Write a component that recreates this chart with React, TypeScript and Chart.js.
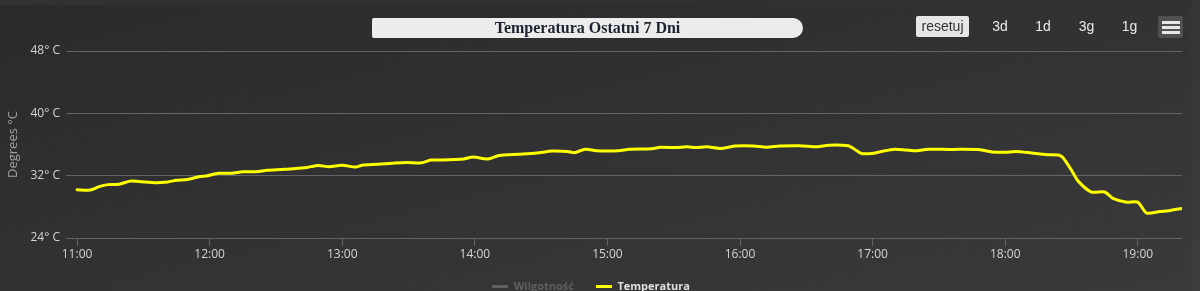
import React, { useEffect, useRef } from "react";
import { Chart, registerables } from "chart.js";

Chart.register(...registerables);

// Minutes after 11:00
const minutes: number[] = [
  0, 6, 10, 14, 19, 24, 28, 36, 41, 45, 50, 55, 59, 64, 70, 75, 81, 86, 92, 98,
  104, 109, 114, 120, 126, 129, 136, 143, 149, 156, 160, 164, 175, 179, 186, 191,
  200, 208, 215, 222, 225, 230, 235, 245, 250, 260, 264, 271, 276, 280, 285, 291,
  298, 306, 312, 318, 327, 335, 340, 349, 351, 355, 361, 364, 370, 375, 380, 385,
  396, 401, 408, 414, 420, 425, 432, 439, 444, 446, 450, 453, 459, 465, 469, 475,
  480, 484, 490, 494, 500,
];

const temperatures: number[] = [
  30.2, 30.15, 30.6, 30.85, 30.9, 31.3, 31.25, 31.1, 31.2, 31.4, 31.5, 31.85, 32.0,
  32.3, 32.3, 32.5, 32.5, 32.7, 32.8, 32.9, 33.05, 33.3, 33.15, 33.35, 33.1, 33.35,
  33.45, 33.6, 33.7, 33.65, 34.0, 34.0, 34.15, 34.4, 34.15, 34.6, 34.75, 34.9,
  35.15, 35.1, 34.95, 35.4, 35.2, 35.2, 35.4, 35.45, 35.65, 35.6, 35.7, 35.6, 35.7,
  35.5, 35.8, 35.8, 35.65, 35.8, 35.85, 35.7, 35.9, 35.85, 35.55, 34.85, 34.9, 35.1,
  35.4, 35.3, 35.2, 35.4, 35.35, 35.4, 35.35, 35.05, 35.0, 35.1, 34.9, 34.7, 34.65,
  34.35, 32.7, 31.3, 29.9, 29.9, 29.05, 28.6, 28.6, 27.2, 27.4, 27.5, 27.8,
];

const humidityValues: number[] = [];

const xTickMinutes: number[] = [0, 60, 120, 180, 240, 300, 360, 420, 480];
const xTickLabels: string[] = [
  "11:00", "12:00", "13:00", "14:00", "15:00", "16:00", "17:00", "18:00", "19:00",
];
const yTicks: number[] = [24, 32, 40, 48];
const seriesNames: string[] = ["Wilgotność", "Temperatura"];
const chartTitle = "Temperatura Ostatni 7 Dni";
const yAxisTitle = "Degrees °C";
const resetLabel = "resetuj";
const rangeButtons: string[] = ["3d", "1d", "3g", "1g"];
const rangeButtonCenters: number[] = [1000, 1043, 1086.5, 1129.5];

const FONT = "'Open Sans', sans-serif";
const CANVAS_H = 302;

function TemperatureChart() {
  const canvasRef = useRef<HTMLCanvasElement | null>(null);

  useEffect(() => {
    const canvas = canvasRef.current;
    if (!canvas) return;
    const chart = new Chart(canvas, {
      type: "line",
      data: {
        datasets: [
          {
            label: seriesNames[0],
            data: humidityValues.map((v, i) => ({ x: minutes[i], y: v })),
            borderColor: "#7798BF",
            hidden: true,
          },
          {
            label: seriesNames[1],
            data: temperatures.map((v, i) => ({ x: minutes[i], y: v })),
            borderColor: "#ffff00",
            backgroundColor: "#ffff00",
            borderWidth: 3,
            pointRadius: 0,
            pointHoverRadius: 0,
            tension: 0.25,
            borderJoinStyle: "round",
            borderCapStyle: "round",
          },
        ],
      },
      options: {
        animation: false,
        responsive: false,
        maintainAspectRatio: false,
        events: [],
        layout: { padding: { top: 51, right: 18, left: 0, bottom: 0 } },
        scales: {
          x: {
            type: "linear",
            min: -5,
            max: 500,
            afterBuildTicks: (scale: any) => {
              scale.ticks = xTickMinutes.map((value) => ({ value }));
            },
            afterFit: (scale: any) => {
              scale.height = 21;
            },
            ticks: {
              autoSkip: false,
              maxRotation: 0,
              padding: 1,
              color: "#d4d4d6",
              font: { family: FONT, size: 12 },
              callback: (_v: any, index: number) => xTickLabels[index],
            },
            grid: {
              display: true,
              drawOnChartArea: false,
              drawTicks: true,
              tickLength: 8,
              color: "#646466",
            },
            border: { display: false },
          },
          y: {
            min: 24,
            max: 48,
            afterBuildTicks: (scale: any) => {
              scale.ticks = yTicks.map((value) => ({ value }));
            },
            afterFit: (scale: any) => {
              scale.width = 66;
            },
            ticks: {
              padding: 6,
              color: "#d4d4d6",
              font: { family: FONT, size: 12 },
              callback: (v: any) => `${v}° C`,
            },
            grid: {
              color: "#646466",
              drawTicks: false,
              lineWidth: 1,
            },
            border: { display: false },
            title: {
              display: true,
              text: yAxisTitle,
              color: "#a0a0a3",
              font: { family: FONT, size: 13 },
              padding: { top: 5, bottom: 0 },
            },
          },
        },
        plugins: {
          title: { display: false },
          tooltip: { enabled: false },
          legend: {
            display: true,
            position: "bottom",
            onClick: () => {},
            labels: {
              usePointStyle: true,
              pointStyleWidth: 16,
              padding: 22,
              font: { family: FONT, size: 11, weight: "bold" },
              generateLabels: (c: any) =>
                c.data.datasets.map((ds: any, i: number) => {
                  const visible = !ds.hidden;
                  return {
                    text: ds.label,
                    fillStyle: visible ? ds.borderColor : "#606063",
                    strokeStyle: visible ? ds.borderColor : "#606063",
                    lineWidth: 3,
                    pointStyle: "line",
                    hidden: false,
                    fontColor: visible ? "#E0E0E3" : "#606063",
                    datasetIndex: i,
                  };
                }),
            },
          },
        },
      },
    } as any);
    return () => chart.destroy();
  }, []);

  return (
    <canvas
      ref={canvasRef}
      width={1200}
      height={CANVAS_H}
      style={{ position: "absolute", left: 0, top: 0, width: 1200, height: CANVAS_H }}
    />
  );
}

export default function App() {
  useEffect(() => {
    document.body.style.margin = "0";
  }, []);

  return (
    <div
      style={{
        position: "relative",
        width: 1200,
        height: 291,
        overflow: "hidden",
        background: "linear-gradient(to bottom right, #2a2a2b, #3a3a3c)",
      }}
    >
      <div
        style={{
          position: "absolute",
          left: 0,
          top: 0,
          width: 1200,
          height: 5,
          background: "#313132",
        }}
      />
      <div
        style={{
          position: "absolute",
          left: 1191,
          top: 0,
          width: 9,
          height: 291,
          background: "rgba(255,255,255,0.02)",
        }}
      />
      <TemperatureChart />
      <div
        style={{
          position: "absolute",
          left: 372,
          top: 18,
          width: 431,
          height: 20,
          background: "#ececec",
          borderRadius: "2px 10px 10px 2px",
          color: "#1c2230",
          fontFamily: "'Liberation Serif', serif",
          fontWeight: "bold",
          fontSize: 16,
          lineHeight: "20px",
          textAlign: "center",
        }}
      >
        {chartTitle}
      </div>
      <div
        style={{
          position: "absolute",
          left: 916,
          top: 16,
          width: 53,
          height: 21,
          background: "#e6e6e6",
          borderRadius: 2,
          color: "#333",
          fontFamily: "'Liberation Sans', Arial, sans-serif",
          fontSize: 14,
          lineHeight: "21px",
          textAlign: "center",
        }}
      >
        {resetLabel}
      </div>
      {rangeButtons.map((b, i) => (
        <div
          key={b}
          style={{
            position: "absolute",
            left: rangeButtonCenters[i] - 16,
            top: 16,
            width: 32,
            height: 21,
            color: "#eaeaea",
            fontFamily: "'Liberation Sans', Arial, sans-serif",
            fontSize: 14,
            lineHeight: "21px",
            textAlign: "center",
          }}
        >
          {b}
        </div>
      ))}
      <div
        style={{
          position: "absolute",
          left: 1158,
          top: 16,
          width: 25,
          height: 22,
          background: "#505053",
          borderRadius: 2,
        }}
      >
        {[4.5, 9.5, 14.5].map((t) => (
          <div
            key={t}
            style={{
              position: "absolute",
              left: 4,
              top: t,
              width: 18,
              height: 3,
              background: "#e6e6e6",
            }}
          />
        ))}
      </div>
    </div>
  );
}
